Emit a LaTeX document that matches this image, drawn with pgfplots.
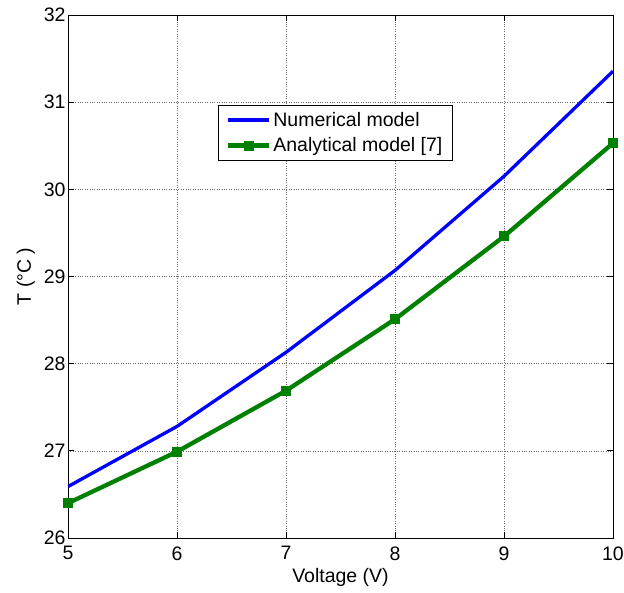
\documentclass[border=0pt]{standalone}
\usepackage{fontspec}
\setmainfont{Liberation Sans}
\usepackage{pgfplots}
\pgfplotsset{compat=1.18}
\definecolor{mblue}{rgb}{0,0,1}
\definecolor{mgreen}{rgb}{0,0.5,0}
\begin{document}
\begin{tikzpicture}
\path[use as bounding box] (-68pt,-54pt) rectangle (556pt,538pt);
\begin{axis}[
  at={(0pt,0pt)}, anchor=south west,
  scale only axis, width=545pt, height=523pt,
  xmin=5, xmax=10, ymin=26, ymax=32,
  xtick={5,6,7,8,9,10}, ytick={26,27,...,32},
  font=\fontsize{19.5}{23}\selectfont,
  /pgf/number format/assume math mode=true,
  tick align=inside, major tick length=6pt,
  xtick pos=both, ytick pos=both,
  grid=major,
  major grid style={dotted, gray!80!black, line width=0.6pt},
  axis line style={line width=0.8pt},
  tick style={black, line width=0.8pt},
  xticklabel style={yshift=-5pt},
  yticklabel style={xshift=1pt},
  xlabel={Voltage (V)}, ylabel={T (°C )},
  xlabel style={yshift=-1pt},
  ylabel style={yshift=2pt},
  legend style={at={(0.275,0.828)}, anchor=north west, draw=black,
    font=\fontsize{19.5}{23}\selectfont, inner xsep=8pt, inner ysep=5pt, row sep=6pt,
    cells={anchor=west}},
  legend cell align=left,
  legend image code/.code={\draw[#1] (0pt,0pt) -- (41pt,0pt); \draw[#1,only marks] plot coordinates {(20.5pt,0pt)};},
]
\addplot[mblue, line width=3.3pt] coordinates {
(5,26.59) (6,27.28) (7,28.13) (8,29.07) (9,30.15) (10,31.355)};
\addlegendentry{Numerical model}
\addplot[mgreen, line width=4.3pt, mark=square*, mark size=4.5pt, mark options={line width=0pt}] coordinates {
(5,26.40) (6,26.99) (7,27.69) (8,28.51) (9,29.46) (10,30.53)};
\addlegendentry{Analytical model [7]}
\end{axis}
\end{tikzpicture}
\end{document}
